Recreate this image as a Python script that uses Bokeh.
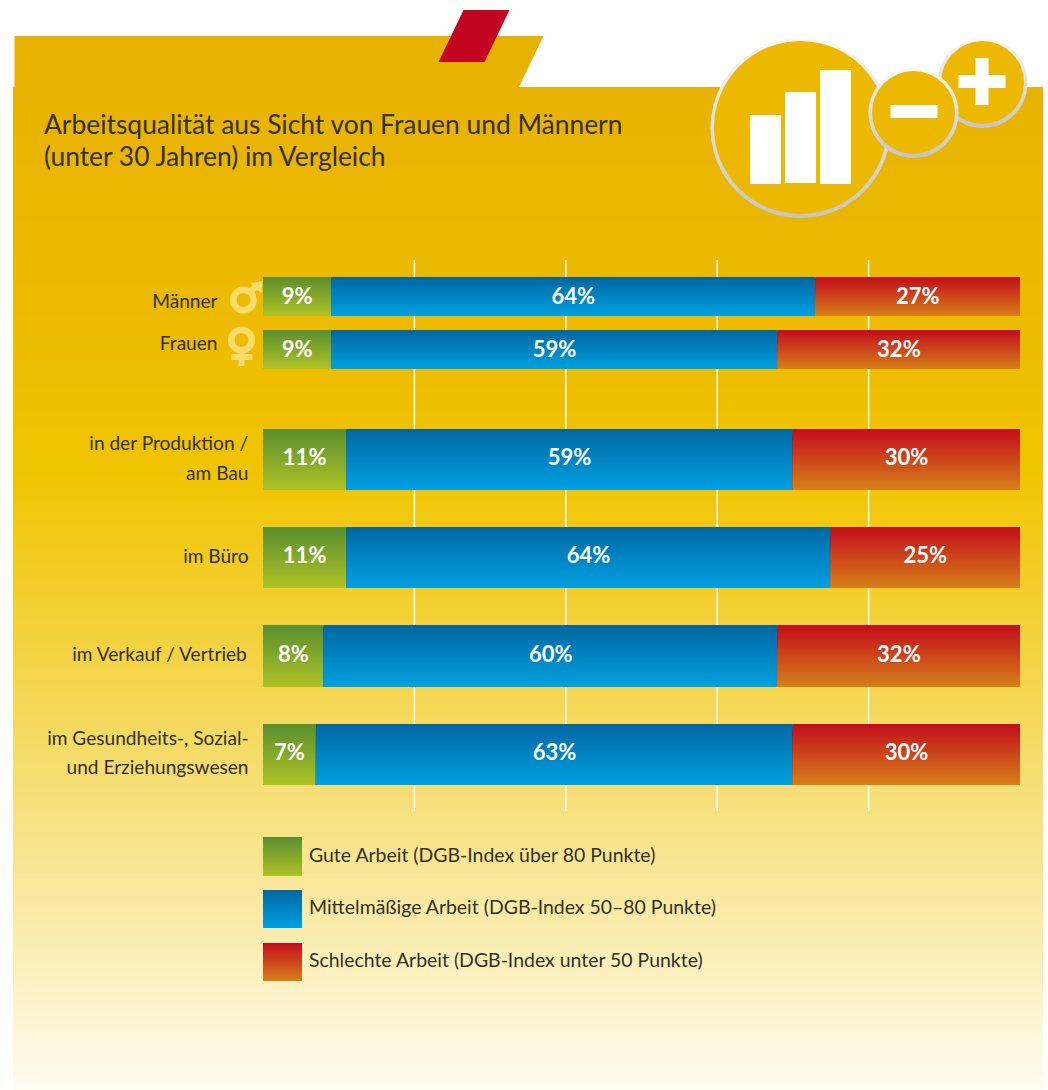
from bokeh.plotting import figure
from bokeh.models import Range1d
from bokeh.core.properties import value
from bokeh.embed import file_html
from bokeh.resources import INLINE
import numpy as np

# ---------- data ----------
categories = [["Männer"], ["Frauen"], ["in der Produktion /", "am Bau"], ["im Büro"],
              ["im Verkauf / Vertrieb"], ["im Gesundheits-, Sozial-", "und Erziehungswesen"]]
gute = [9, 9, 11, 11, 8, 7]
mittel = [64, 59, 59, 64, 60, 63]
schlecht = [27, 32, 30, 25, 32, 30]
grid_ticks = [20, 40, 60, 80]
title_lines = ["Arbeitsqualität aus Sicht von Frauen und Männern", "(unter 30 Jahren) im Vergleich"]
legend_labels = ["Gute Arbeit (DGB-Index über 80 Punkte)",
                 "Mittelmäßige Arbeit (DGB-Index 50–80 Punkte)",
                 "Schlechte Arbeit (DGB-Index unter 50 Punkte)"]

# ---------- layout (page pixels) ----------
PAGE_W, PAGE_H, M = 1048, 1090, 0
X0, X100 = 262.5, 1019.5
row_tops = [277, 330, 429, 527, 625, 724]
row_bots = [316, 369, 490, 588, 687, 785]
label_right = [217, 217, 248, 248, 248, 248]
label_ys = [[301], [343], [443, 473], [556], [654], [738, 767]]
legend_tops = [837, 890, 943]
legend_bots = [876, 928, 981]
legend_text_ys = [855, 907, 960]
FONT = "Lato"
TXT = "#333028"

ramps = [("#5A8F2E", "#AEC226"), ("#0067A3", "#00A0E0"), ("#C30D1C", "#D67F18")]
bg_stops = [(87, "#E8B300"), (300, "#ECBA00"), (470, "#F1C400"), (590, "#F3CE2C"),
            (780, "#F6DE73"), (960, "#FBEFB9"), (1090, "#FFFCF3")]


def rgb(h):
    return np.array([int(h[i:i + 2], 16) for i in (1, 3, 5)], float)


def mix(a, b, t):
    c = rgb(a) * (1 - t) + rgb(b) * t
    return "#%02x%02x%02x" % tuple(int(round(v)) for v in c)


def px_to_pct(px):
    return (px - X0) / (X100 - X0) * 100


p = figure(width=PAGE_W - M, height=PAGE_H - M, output_backend="svg", toolbar_location=None,
           x_axis_type=None, y_axis_type=None, min_border=0,
           x_range=Range1d(px_to_pct(M), px_to_pct(PAGE_W)),
           y_range=Range1d(PAGE_H + 0.5, M + 0.5), outline_line_color=None,
           background_fill_color="white", border_fill_color="white")
p.grid.visible = False
p.extra_x_ranges = {"page": Range1d(M, PAGE_W)}
PG = dict(x_range_name="page")

# background shapes
ys = np.arange(87, 1091, 3)
stops_y = [s[0] for s in bg_stops]
bg_cols = []
for y in ys:
    i = min(np.searchsorted(stops_y, y, side="right") - 1, len(bg_stops) - 2)
    t = (y - stops_y[i]) / (stops_y[i + 1] - stops_y[i])
    bg_cols.append(mix(bg_stops[i][1], bg_stops[i + 1][1], min(t, 1)))
p.patch([14, 543, 518, 14], [36, 36, 88, 88], fill_color="#E8B300", line_color=None, **PG)
p.quad(left=12.5, right=1042.5, top=ys, bottom=1091, fill_color=bg_cols, line_color=None, **PG)
p.patch([463, 509, 484, 438], [10, 10, 62, 62], fill_color="#C30522", line_color=None, **PG)

# grid lines
p.segment(x0=grid_ticks, x1=grid_ticks, y0=260, y1=811, line_color="white", line_width=1.5)


def gradient(lefts, rights, tops, bots, ramp, **kw):
    L, R, T, B, C = [], [], [], [], []
    for l, r, t, b in zip(lefts, rights, tops, bots):
        for y in range(t, b):
            L.append(l); R.append(r); T.append(y); B.append(b)
            C.append(mix(ramp[0], ramp[1], (y - t) / max(b - t - 1, 1)))
    p.quad(left=L, right=R, top=T, bottom=B, fill_color=C, line_color=None, **kw)


# stacked bars
g = np.array(gute, float)
m = np.array(mittel, float)
s = np.array(schlecht, float)
starts = [np.zeros(6), g, g + m]
ends = [g, g + m, g + m + s]
for st, en, ramp, vals in zip(starts, ends, ramps, (gute, mittel, schlecht)):
    gradient(st, en, row_tops, row_bots, ramp)
    p.text(x=(st + en) / 2,
           y=[(a + b) / 2 - (1.5 if b - a < 50 else 3) for a, b in zip(row_tops, row_bots)],
           text=[f"{v}%" for v in vals], text_color="white", text_align="center",
           text_baseline="middle", text_font=value(FONT), text_font_style="bold",
           text_font_size="22px")

# category labels
lx, ly, lt = [], [], []
for lines, yy, r in zip(categories, label_ys, label_right):
    for t, y in zip(lines, yy):
        lx.append(r); ly.append(y - 0.5); lt.append(t)
p.text(x=lx, y=ly, text=lt, text_color=TXT, text_align="right", text_baseline="alphabetic",
       text_font=value(FONT), text_font_size="19.1px", **PG)

# title
p.text(x=[43.5, 43.5], y=[124, 156], text=title_lines, text_color=TXT, text_align="left",
       text_baseline="alphabetic", text_font=value(FONT), text_font_size="26.4px", **PG)

# legend
for top, bot, ramp, txt, ty in zip(legend_tops, legend_bots, ramps, legend_labels, legend_text_ys):
    gradient([262.5], [301.5], [top], [bot], ramp, **PG)
    p.text(x=[308.5], y=[ty - 0.5], text=[txt], text_color=TXT, text_align="left",
           text_baseline="alphabetic", text_font=value(FONT), text_font_size="19.45px", **PG)

# gender symbols
SYM = "#F9DC6C"
p.annulus(x=[243], y=[300], inner_radius=7, outer_radius=13.5, fill_color=SYM, line_color=None, **PG)
p.line([250, 258], [291, 285], line_color=SYM, line_width=6, **PG)
p.patch([250, 262, 261, 254], [283, 281, 293, 288], fill_color=SYM, line_color=None, **PG)
p.annulus(x=[241], y=[340], inner_radius=7, outer_radius=13.5, fill_color=SYM, line_color=None, **PG)
p.segment(x0=[241, 231], x1=[241, 252], y0=[353, 357], y1=[366, 357], line_color=SYM, line_width=6, **PG)


# badges
def badge(cx, cy, r):
    n = 48
    a = np.linspace(0, 2 * np.pi, n, endpoint=False)
    da = 2 * np.pi / n
    cols = [mix("#C6C6C6", "#F8F8F8", (np.sin(x + da / 2) + 1) / 2) for x in a]
    p.circle(x=[cx], y=[cy], radius=r - 2, fill_color="#D8D8D8", line_color=None, **PG)
    p.annular_wedge(x=cx, y=cy, inner_radius=r - 5, outer_radius=r, start_angle=a - 0.01,
                    end_angle=a + da + 0.01, fill_color=cols, line_color=None, **PG)
    p.circle(x=[cx], y=[cy - 0.5], radius=r - 3.5, fill_color="#EDB900", line_color=None, **PG)


badge(800, 128, 90)
p.quad(left=[749.5, 784.5, 819.5], right=[780.5, 815.5, 850.5], top=[115, 92, 70], bottom=[184, 183, 184],
       fill_color="white", line_color=None, **PG)
badge(982, 83, 45)
p.quad(left=[958, 975], right=[1005, 988], top=[75, 58], bottom=[88, 105], fill_color="white", line_color=None, **PG)
badge(913, 113, 45)
p.quad(left=[890], right=[937], top=[105], bottom=[118], fill_color="white", line_color=None, **PG)

open("out.html", "w").write(file_html(p, INLINE))
